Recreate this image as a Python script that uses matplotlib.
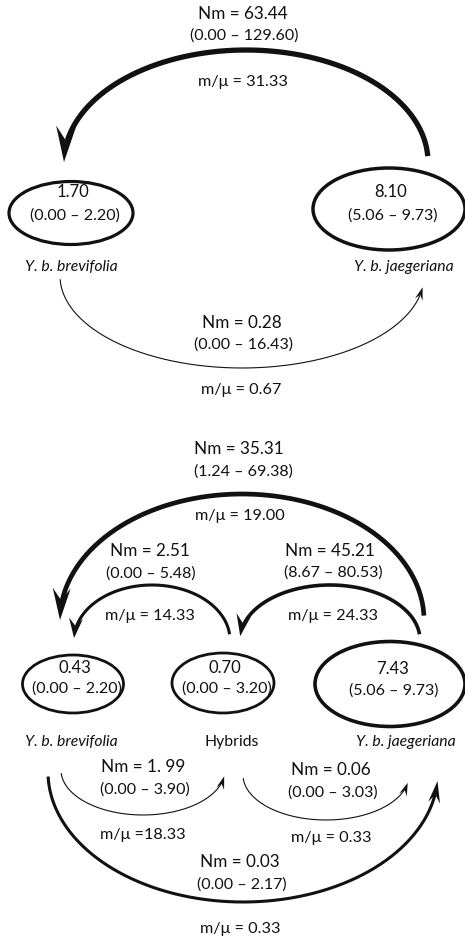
import numpy as np
import matplotlib
matplotlib.use("Agg")
import matplotlib.pyplot as plt
from matplotlib.patches import Ellipse, Polygon

# ---------------- data ----------------
# Panel A (two populations)
popsA = ["Y. b. brevifolia", "Y. b. jaegeriana"]
thetaA = [1.70, 8.10]
thetaA_lo = [0.00, 5.06]
thetaA_hi = [2.20, 9.73]
migA_nm = [63.44, 0.28]
migA_lo = [0.00, 0.00]
migA_hi = [129.60, 16.43]
migA_mmu = [31.33, 0.67]

# Panel B (three populations)
popsB = ["Y. b. brevifolia", "Hybrids", "Y. b. jaegeriana"]
thetaB = [0.43, 0.70, 7.43]
thetaB_lo = [0.00, 0.00, 5.06]
thetaB_hi = [2.20, 3.20, 9.73]
# order: jae->bre, hyb->bre, jae->hyb, bre->hyb, hyb->jae, bre->jae
migB_nm = [35.31, 2.51, 45.21, 1.99, 0.06, 0.03]
migB_lo = [1.24, 0.00, 8.67, 0.00, 0.00, 0.00]
migB_hi = [69.38, 5.48, 80.53, 3.90, 3.03, 2.17]
migB_mmu = ["19.00", "14.33", "24.33", "18.33", "0.33", "0.33"]
migB_nmtxt = ["35.31", "2.51", "45.21", "1. 99", "0.06", "0.03"]

FONT = "Lato"
W, H = 465, 943
fig = plt.figure(figsize=(W / 100, H / 100), dpi=100)
ax = fig.add_axes([0, 0, 1, 1])
ax.set_xlim(0, W)
ax.set_ylim(H, 0)
ax.axis("off")


def txt(x, y, s, size=12, style="normal"):
    ax.text(x, y, s, ha="center", va="center", fontsize=size,
            fontstyle=style, family=[FONT, "DejaVu Sans"], color="#111111")


def arc(cx, cy, rx, ry, t1, t2, lw, head_len, head_w):
    t = np.radians(np.linspace(t1, t2, 300))
    x = cx + rx * np.cos(t)
    y = cy - ry * np.sin(t)
    tip = np.array([x[-1], y[-1]])
    d = tip - np.array([x[-8], y[-8]])
    d = d / np.hypot(*d)
    n = np.array([-d[1], d[0]])
    dist = np.hypot(x - tip[0], y - tip[1])
    keep = dist > head_len * 0.6
    ax.plot(x[keep], y[keep], color="#111111", lw=lw, solid_capstyle="butt")
    base = tip - head_len * d
    pts = [tip, base + n * head_w / 2, tip - 0.62 * head_len * d, base - n * head_w / 2]
    ax.add_patch(Polygon(pts, closed=True, color="#111111", lw=0))


def pop(cx, cy, w, h, lw, val, lo, hi, vy1, vy2, size1=12, size2=11.5):
    ax.add_patch(Ellipse((cx, cy), w, h, fill=False, lw=lw, ec="#111111"))
    txt(cx + 2, vy1, f"{val:.2f}", size1)
    txt(cx + 4, vy2, f"({lo:.2f} \u2013 {hi:.2f})", size2)


# ---------------- Panel A ----------------
pop(71, 213, 124, 63, 2.3, thetaA[0], thetaA_lo[0], thetaA_hi[0], 192, 216)
pop(389, 209, 152, 82, 2.5, thetaA[1], thetaA_lo[1], thetaA_hi[1], 192, 216)
txt(71, 267, popsA[0], 11.3, "italic")
txt(404, 267, popsA[1], 11.3, "italic")

arc(246, 162, 182, 112, 3, 180, 3.8, 36, 20)
txt(243, 14, f"Nm = {migA_nm[0]:.2f}", 12.3)
txt(244, 36, f"({migA_lo[0]:.2f} \u2013 {migA_hi[0]:.2f})", 11.5)
txt(243, 82, f"m/\u03bc = {migA_mmu[0]:.2f}", 11.7)

arc(242, 276, 182, 92, 182, 353, 0.8, 13, 8)
txt(242, 323, f"Nm = {migA_nm[1]:.2f}", 12.3)
txt(243, 345, f"({migA_lo[1]:.2f} \u2013 {migA_hi[1]:.2f})", 11.5)
txt(241, 390, f"m/\u03bc = {migA_mmu[1]:.2f}", 11.7)

# ---------------- Panel B ----------------
pop(73, 684, 101, 58, 2.0, thetaB[0], thetaB_lo[0], thetaB_hi[0], 668, 689)
pop(223, 683, 102, 60, 2.0, thetaB[1], thetaB_lo[1], thetaB_hi[1], 668, 689)
pop(390, 684, 150, 85, 2.6, thetaB[2], thetaB_lo[2], thetaB_hi[2], 669, 691)
txt(71, 742, popsB[0], 11.3, "italic")
txt(232, 742, popsB[1], 11.3)
txt(406, 742, popsB[2], 11.3, "italic")

# arcs: (cx, cy, rx, ry, t1, t2, lw, head_len, head_w)
arcsB = [
    (242, 620, 182, 126, 2, 180, 3.4, 32, 18),
    (152, 640, 78, 55, 6, 178, 2.2, 20, 14),
    (330, 640, 90, 55, 6, 176, 2.6, 22, 15),
    (143, 770, 82, 45, 184, 352, 0.8, 13, 8),
    (326, 775, 83, 45, 184, 350, 0.8, 13, 8),
    (243, 772, 195, 130, 182, 356, 2.2, 22, 12),
]
for a in arcsB:
    arc(*a)

labB = [  # (x, y of Nm), (x, y of CI), (x, y of m/mu)
    ((239, 449), (243, 472), (240, 516)),
    ((150, 551), (151, 574), (150, 616)),
    ((330, 551), (333, 573), (333, 616)),
    ((143, 767), (145, 790), (143, 835)),
    ((331, 770), (333, 793), (331, 838)),
    ((240, 862), (242, 885), (240, 929)),
]
for i, ((x1, y1), (x2, y2), (x3, y3)) in enumerate(labB):
    txt(x1, y1, f"Nm = {migB_nmtxt[i]}", 12.3)
    txt(x2, y2, f"({migB_lo[i]:.2f} \u2013 {migB_hi[i]:.2f})", 11.5)
    sep = " =" if i == 3 else " = "
    txt(x3, y3, f"m/\u03bc{sep}{migB_mmu[i]}", 11.7)

fig.savefig("out.png", dpi=100)
